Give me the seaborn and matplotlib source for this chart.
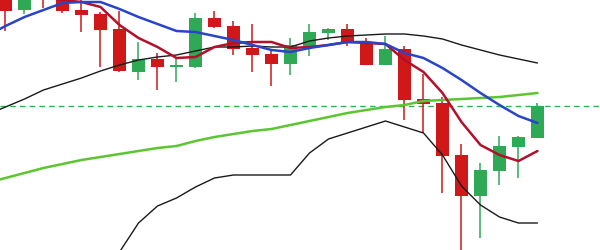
import numpy as np
import pandas as pd
import matplotlib
matplotlib.use("Agg")
import matplotlib.pyplot as plt
import seaborn as sns

# candle data (index 0 lies just off the left edge)
opens  = [44.5, 45.3, 44.0, 47.5, 45.3, 44.0, 43.6, 42.1, 37.8, 39.1, 38.35, 38.3, 43.2, 42.4, 40.2,
          39.6, 38.6, 40.4, 41.7, 42.1, 40.7, 38.5, 40.1, 35.1, 34.7, 29.5, 25.4, 27.9, 30.3, 31.2]
closes = [45.0, 43.9, 45.2, 45.4, 43.9, 43.5, 42.0, 37.9, 39.1, 38.3, 38.45, 43.2, 42.3, 40.1, 39.5,
          38.6, 40.5, 41.8, 42.1, 40.7, 38.5, 40.1, 35.0, 34.6, 29.4, 25.4, 28.0, 30.4, 31.3, 34.4]
highs  = [45.5, 45.6, 45.4, 48.0, 45.6, 45.2, 43.8, 43.9, 40.8, 39.7, 39.3, 43.7, 43.9, 42.9, 42.6,
          40.1, 41.2, 42.6, 42.2, 42.6, 41.2, 41.4, 40.4, 37.6, 35.3, 30.6, 28.7, 31.4, 31.4, 34.7]
lows   = [44.0, 41.9, 43.6, 44.2, 43.7, 41.8, 38.3, 37.8, 37.0, 36.0, 36.8, 38.2, 42.2, 39.5, 37.8,
          36.4, 37.5, 39.4, 41.0, 40.4, 38.5, 38.5, 33.0, 31.7, 25.7, 19.8, 21.2, 26.5, 27.2, 31.2]

ma_red   = [46.2, 45.8, 45.5, 45.3, 45.0, 44.8, 44.3, 42.5, 41.2, 40.3, 39.2, 39.3, 40.3, 40.7, 40.8,
            40.8, 40.2, 40.3, 40.5, 40.8, 40.7, 40.6, 39.0, 37.8, 35.7, 32.8, 30.5, 29.5, 28.9, 29.9]
ma_blue  = [41.4, 42.4, 43.3, 44.0, 44.7, 44.8, 44.8, 44.1, 43.3, 42.6, 41.9, 41.8, 41.4, 41.0, 40.5,
            40.0, 39.8, 40.2, 40.5, 40.8, 40.8, 40.6, 39.7, 39.2, 38.2, 37.0, 35.7, 34.5, 33.4, 32.7]
ma_green = [26.7, 27.2, 27.7, 28.2, 28.6, 29.0, 29.3, 29.6, 29.9, 30.2, 30.4, 30.9, 31.3, 31.6, 31.9,
            32.1, 32.5, 32.9, 33.3, 33.7, 34.0, 34.3, 34.5, 34.9, 35.0, 35.1, 35.2, 35.3, 35.5, 35.7]
band_up  = [33.5, 34.3, 35.1, 36.0, 36.6, 37.2, 37.9, 38.5, 39.0, 39.3, 39.5, 39.9, 40.3, 40.3, 40.4,
            40.3, 40.3, 40.9, 41.2, 41.4, 41.5, 41.6, 41.6, 41.4, 41.1, 40.5, 40.0, 39.5, 39.1, 38.7]
band_lo  = [10.5, 11.5, 12.2, 13.0, 14.0, 15.5, 17.5, 19.8, 22.7, 24.4, 25.2, 26.3, 27.2, 27.5, 27.5,
            27.5, 27.5, 29.7, 31.1, 31.7, 32.3, 32.9, 32.3, 31.7, 29.5, 26.4, 24.5, 23.3, 22.7, 22.7]
ref_level = 34.4

n = len(opens)
idx = np.arange(n)
df = pd.DataFrame({"i": idx, "open": opens, "close": closes, "high": highs, "low": lows,
                   "ma_red": ma_red, "ma_blue": ma_blue, "ma_green": ma_green,
                   "up": band_up, "lo": band_lo})

sns.set_theme(style="white")
fig = plt.figure(figsize=(6, 2.5), dpi=100)
ax = fig.add_axes([0, 0, 1, 1])
ax.set_axis_off()

RED = "#d01818"
GREEN = "#2eaa57"
up_mask = df["close"] >= df["open"]
colors = np.where(up_mask, GREEN, RED)

# wicks
ax.vlines(df["i"], df["low"], df["high"], colors=colors, linewidth=1.1, zorder=2)
# bodies
bottoms = np.minimum(df["open"], df["close"])
heights = np.maximum(np.abs(df["close"] - df["open"]), 0.1)
ax.bar(df["i"], heights, bottom=bottoms, width=0.684, color=colors, linewidth=0, zorder=3)

ax.axhline(ref_level, color="#2db34a", linestyle=(0, (4, 3)), linewidth=1.0, zorder=1)

sns.lineplot(data=df, x="i", y="lo", ax=ax, color="#1a1a1a", linewidth=1.0, zorder=4)
sns.lineplot(data=df, x="i", y="up", ax=ax, color="#1a1a1a", linewidth=1.0, zorder=4)
sns.lineplot(data=df, x="i", y="ma_green", ax=ax, color="#5cc630", linewidth=1.8, zorder=5)
sns.lineplot(data=df, x="i", y="ma_red", ax=ax, color="#b3102a", linewidth=1.8, zorder=5)
sns.lineplot(data=df, x="i", y="ma_blue", ax=ax, color="#2a44c8", linewidth=1.8, zorder=6)

ax.set_xlim(1 - 5.5 / 19, 1 + 594.5 / 19)
ax.set_ylim(20, 45)
ax.set_xlabel("")
ax.set_ylabel("")

fig.savefig("out.png", dpi=100, facecolor="white")
